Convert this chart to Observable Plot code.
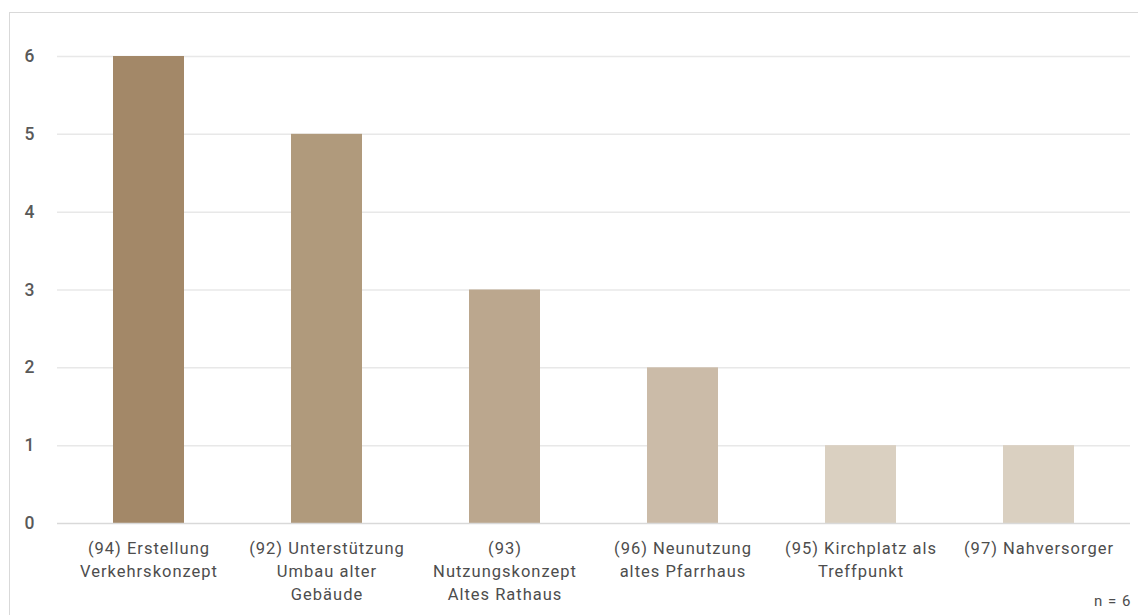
<!DOCTYPE html>
<html>
<head>
<meta charset="utf-8">
<script src="https://cdn.jsdelivr.net/npm/d3@7"></script>
<script src="https://cdn.jsdelivr.net/npm/@observablehq/plot@0.6"></script>
<style>
  html, body { margin: 0; padding: 0; background: #fff; overflow: hidden; }
  #wrap { position: relative; width: 1138px; height: 615px; overflow: hidden; }
  #box { position: absolute; left: 9px; top: 12px; width: 1300px; height: 700px;
         border: 1.5px solid #d9d9d9; box-sizing: border-box; }
  #chart { position: absolute; left: 0; top: 0; }
</style>
</head>
<body>
<div id="wrap">
  <div id="box"></div>
  <div id="chart"></div>
</div>
<script>
// Projects and number of mentions
const categories = [
  "(94) Erstellung\nVerkehrskonzept",
  "(92) Unterstützung\nUmbau alter\nGebäude",
  "(93)\nNutzungskonzept\nAltes Rathaus",
  "(96) Neunutzung\naltes Pfarrhaus",
  "(95) Kirchplatz als\nTreffpunkt",
  "(97) Nahversorger"
];
const counts = [6, 5, 3, 2, 1, 1];
const barColors = ["#a38868", "#b09a7c", "#bba78e", "#cbbba8", "#dad0c1", "#dad0c1"];
const yTicks = [0, 1, 2, 3, 4, 5, 6];
const note = "n = 6";

const data = categories.map((c, i) => ({category: c, count: counts[i], color: barColors[i]}));

const font = "Roboto, 'DejaVu Sans', sans-serif";

const chart = Plot.plot({
  width: 1138,
  height: 615,
  marginLeft: 57,
  marginRight: 8,
  marginTop: 56,
  marginBottom: 92,
  style: {fontFamily: font, color: "#595959", background: "transparent", letterSpacing: "1px"},
  x: {domain: categories, paddingInner: 0.6, paddingOuter: 0.3, label: null},
  y: {domain: [0, 6], label: null},
  marks: [
    Plot.gridY(yTicks.filter(d => d > 0), {stroke: "#e8e8e8", strokeOpacity: 1, strokeWidth: 1.5}),
    Plot.barY(data, {x: "category", y: "count", fill: "color"}),
    Plot.ruleY([0], {stroke: "#d9d9d9", strokeWidth: 1.5}),
    Plot.axisY({ticks: yTicks, tickFormat: d => String(d), tickSize: 0, tickPadding: 22, fontSize: 17.5, fontWeight: 500, fill: "#595959", label: null}),
    Plot.axisX({tickSize: 0, tickPadding: 14, fontSize: 16.5, fontWeight: 400, lineHeight: 1.4, fill: "#4d4d4d", label: null, lineAnchor: "top"}),
    Plot.text([note], {frameAnchor: "bottom-right", text: d => d, dx: 1, dy: 82, fontSize: 15, fontWeight: 400, fill: "#4d4d4d"})
  ]
});
document.getElementById("chart").appendChild(chart);
</script>
</body>
</html>
